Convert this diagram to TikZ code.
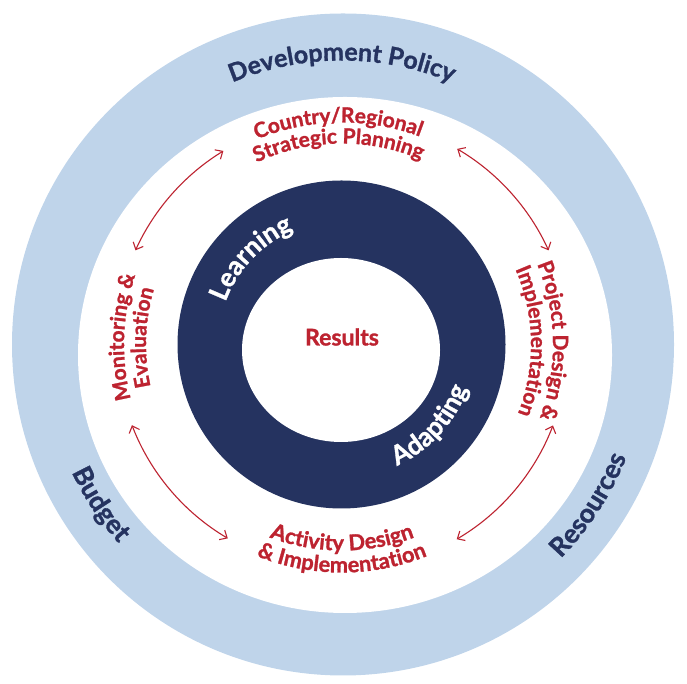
\documentclass[tikz,border=0pt]{standalone}
\usepackage{fontspec}
\setmainfont{Lato}[BoldFeatures={FakeBold=1.2}]
\usetikzlibrary{decorations.text,arrows.meta,calc}
\definecolor{bandblue}{RGB}{191,212,234}
\definecolor{navy}{RGB}{37,51,96}
\definecolor{labred}{RGB}{189,35,48}
\newcommand\tf[1]{\fontsize{#1}{#1}\selectfont\bfseries}
\tikzset{
  cyclearrow/.style={labred, line width=1.1pt, {Straight Barb[length=6pt,width=11pt]}-{Straight Barb[length=6pt,width=11pt]}},
  bluetext/.style={decoration={text along path, text={|\tf{25}|#1}, text align=center, text color=navy}, decorate},
  sidetext/.style={decoration={text along path, text={|\tf{26.5}|#1}, text align=center, text color=navy}, decorate},
  redtext/.style={decoration={text along path, text={|\tf{21}|#1}, text align=center, text color=labred}, decorate},
  lowredtext/.style={decoration={text along path, text={|\tf{21.8}|#1}, text align=center, text color=labred}, decorate},
  whitetext/.style={decoration={text along path, text={|\tf{26.5}|#1}, text align=center, text color=white}, decorate}
}
\begin{document}
\begin{tikzpicture}[x=1pt,y=1pt]
\useasboundingbox (0,0) rectangle (687,684);
\coordinate (C) at (342,339.5);
% rings
\fill[bandblue] (343,339.5) circle[radius=331];
\fill[white] (345,329) ellipse[x radius=267, y radius=258];
\fill[navy] (341.5,339.5) circle[radius=164];
\fill[white] (341,334) ellipse[x radius=99, y radius=92];
% centre
\node[text=labred, font=\tf{23}] (results) at (342,347) {Results};
% outer band texts
\path[bluetext={Development Policy}] (C) ++(130:284) arc[start angle=130, end angle=50, radius=284];
\path[sidetext={Budget}] (C) ++(180:299) arc[start angle=180, end angle=247, radius=299];
\path[sidetext={Resources}] (C) ++(-75:306) arc[start angle=-75, end angle=9, radius=306];
% dark ring texts
\path[whitetext={Learning}] (C) ++(175:124) arc[start angle=175, end angle=98, radius=124];
\path[whitetext={Adapting}] (C) ++(-81:133) arc[start angle=-81, end angle=-4, radius=133];
% red stage labels
\path[redtext={Country/Regional}] (C) ++(125:222) arc[start angle=125, end angle=57, radius=222];
\path[redtext={Strategic Planning}] (C) ++(125:201) arc[start angle=125, end angle=57, radius=201];
\path[redtext={Project Design {\&}}] (C) ++(30:211) arc[start angle=30, end angle=-28, radius=211];
\path[redtext={Implementation}] (C) ++(30:189) arc[start angle=30, end angle=-28, radius=189];
\path[lowredtext={Activity Design}] (C) ++(235:206) arc[start angle=235, end angle=305, radius=206];
\path[lowredtext={{\&} Implementation}] (C) ++(235:228) arc[start angle=235, end angle=305, radius=228];
\path[redtext={Monitoring {\&}}] (C) ++(208:218) arc[start angle=208, end angle=148, radius=218];
\path[redtext={Evaluation}] (C) ++(208:196) arc[start angle=208, end angle=148, radius=196];
% arrows
\coordinate (a1s) at ($(C)+(155.5:227)$);
\coordinate (a2s) at ($(C)+(59.5:227)$);
\coordinate (a3s) at ($(C)+(201:225)$);
\coordinate (a4s) at ($(C)+(-59.5:226)$);
\draw[cyclearrow] (a1s) arc[start angle=155.5, end angle=121.5, radius=227];
\draw[cyclearrow] (a2s) arc[start angle=59.5, end angle=24.5, radius=227];
\draw[cyclearrow] (a3s) arc[start angle=201, end angle=239.5, radius=225];
\draw[cyclearrow] (a4s) arc[start angle=-59.5, end angle=-21, radius=226];
\end{tikzpicture}
\end{document}
